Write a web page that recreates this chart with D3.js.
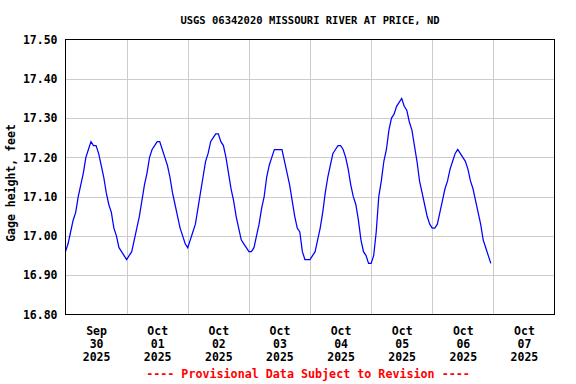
<!DOCTYPE html>
<html>
<head>
<meta charset="utf-8">
<script src="https://cdn.jsdelivr.net/npm/d3@7"></script>
<style>
  html, body { margin: 0; padding: 0; background: #fff; }
  svg { display: block; }
  text { font-family: "DejaVu Sans Mono", "Liberation Mono", monospace; font-weight: bold; }
</style>
</head>
<body>
<svg id="chart" width="576" height="384"></svg>
<script>
// ---- Data ----
const title = "USGS 06342020 MISSOURI RIVER AT PRICE, ND";
const yLabel = "Gage height, feet";
const footer = "---- Provisional Data Subject to Revision ----";
const startTime = "2025-09-30T00:00:00";
const endTime = "2025-10-08T00:00:00";
// hourly gage height readings (feet), starting Sep 30 00:00
const gageHeight = [
  // Sep 30
  16.96,16.98,17.01,17.04,17.06,17.10,17.13,17.16,17.20,17.22,17.24,17.23,
  17.23,17.21,17.18,17.15,17.11,17.08,17.06,17.02,17.00,16.97,16.96,16.95,
  // Oct 01
  16.94,16.95,16.96,16.99,17.02,17.05,17.09,17.13,17.16,17.20,17.22,17.23,
  17.24,17.24,17.22,17.20,17.18,17.15,17.11,17.08,17.05,17.02,17.00,16.98,
  // Oct 02
  16.97,16.99,17.01,17.03,17.07,17.11,17.15,17.19,17.21,17.24,17.25,17.26,
  17.26,17.24,17.23,17.20,17.16,17.12,17.09,17.05,17.02,16.99,16.98,16.97,
  // Oct 03
  16.96,16.96,16.97,17.00,17.03,17.07,17.10,17.15,17.18,17.20,17.22,17.22,
  17.22,17.22,17.19,17.16,17.13,17.09,17.05,17.02,17.01,16.96,16.94,16.94,
  // Oct 04
  16.94,16.95,16.96,16.99,17.02,17.06,17.11,17.15,17.18,17.21,17.22,17.23,
  17.23,17.22,17.20,17.17,17.13,17.10,17.08,17.04,16.99,16.96,16.95,16.93,
  // Oct 05
  16.93,16.95,17.01,17.10,17.14,17.19,17.22,17.27,17.30,17.31,17.33,17.34,
  17.35,17.33,17.32,17.29,17.27,17.23,17.19,17.14,17.11,17.08,17.05,17.03,
  // Oct 06
  17.02,17.02,17.03,17.06,17.09,17.12,17.14,17.17,17.19,17.21,17.22,17.21,
  17.20,17.19,17.17,17.14,17.12,17.09,17.06,17.03,16.99,16.97,16.95,16.93
];
const yTicks = [16.80, 16.90, 17.00, 17.10, 17.20, 17.30, 17.40, 17.50];
const dayTickMonths = ["Sep","Oct","Oct","Oct","Oct","Oct","Oct","Oct"];
const dayTickDays   = ["30","01","02","03","04","05","06","07"];
const dayTickYears  = ["2025","2025","2025","2025","2025","2025","2025","2025"];

// ---- Layout ----
const svg = d3.select("#chart");
const pLeft = 65.5, pRight = 554.5, pTop = 39.5, pBottom = 314.5;

const t0 = new Date(startTime);
const t1 = new Date(endTime);
const x = d3.scaleTime().domain([t0, t1]).range([pLeft, pRight]);
const y = d3.scaleLinear().domain([16.8, 17.5]).range([pBottom, pTop]);

const data = gageHeight.map((v, i) => ({ t: d3.timeHour.offset(t0, i), v }));

// gridlines
const midnights = d3.timeDay.range(d3.timeDay.offset(t0, 1), t1);
svg.append("g").selectAll("line").data(midnights).join("line")
  .attr("x1", d => Math.round(x(d)) + 0.5).attr("x2", d => Math.round(x(d)) + 0.5)
  .attr("y1", pTop).attr("y2", pBottom)
  .attr("stroke", "#cccccc").attr("stroke-width", 1);
svg.append("g").selectAll("line").data(yTicks.slice(1, -1)).join("line")
  .attr("x1", pLeft).attr("x2", pRight)
  .attr("y1", d => Math.round(y(d)) + 0.5).attr("y2", d => Math.round(y(d)) + 0.5)
  .attr("stroke", "#cccccc").attr("stroke-width", 1);

// data line
const line = d3.line().x(d => x(d.t)).y(d => y(d.v));
svg.append("path").datum(data)
  .attr("d", line)
  .attr("fill", "none")
  .attr("stroke", "#0000ff")
  .attr("stroke-width", 1.25);

// frame
svg.append("rect")
  .attr("x", pLeft).attr("y", pTop)
  .attr("width", pRight - pLeft).attr("height", pBottom - pTop)
  .attr("fill", "none").attr("stroke", "#000").attr("stroke-width", 1);

// y axis
const yAxis = d3.axisLeft(y).tickValues(yTicks).tickFormat(d3.format(".2f"))
  .tickSize(0).tickPadding(8);
const gy = svg.append("g").attr("transform", `translate(${pLeft},0)`).call(yAxis);
gy.select(".domain").remove();
gy.selectAll("text").attr("font-size", "11.5px").attr("fill", "#000")
  .attr("font-family", "'DejaVu Sans Mono', monospace").attr("font-weight", "bold");

// x axis (labels at noon of each day)
const noons = d3.range(8).map(i => d3.timeHour.offset(d3.timeDay.offset(t0, i), 12));
const xAxis = d3.axisBottom(x).tickValues(noons).tickSize(0).tickPadding(0).tickFormat(() => "");
const gx = svg.append("g").attr("transform", `translate(0,${pBottom})`).call(xAxis);
gx.select(".domain").remove();
gx.selectAll(".tick").each(function(d, i) {
  const txt = d3.select(this).select("text")
    .attr("font-size", "11.5px").attr("fill", "#000")
    .attr("font-family", "'DejaVu Sans Mono', monospace").attr("font-weight", "bold")
    .attr("y", 0).attr("dy", null);
  txt.append("tspan").attr("x", 0).attr("y", 20).text(dayTickMonths[i]);
  txt.append("tspan").attr("x", 0).attr("y", 33).text(dayTickDays[i]);
  txt.append("tspan").attr("x", 0).attr("y", 46).text(dayTickYears[i]);
});

// title
svg.append("text").attr("x", 310).attr("y", 24)
  .attr("text-anchor", "middle").attr("font-size", "10.5px").attr("fill", "#000")
  .text(title);

// y label
svg.append("text")
  .attr("transform", "translate(15,183) rotate(-90)")
  .attr("text-anchor", "middle").attr("font-size", "11.5px").attr("fill", "#000")
  .text(yLabel);

// footer
svg.append("text").attr("x", 308).attr("y", 378)
  .attr("text-anchor", "middle").attr("font-size", "11.7px").attr("fill", "#ff0000")
  .text(footer);
</script>
</body>
</html>
